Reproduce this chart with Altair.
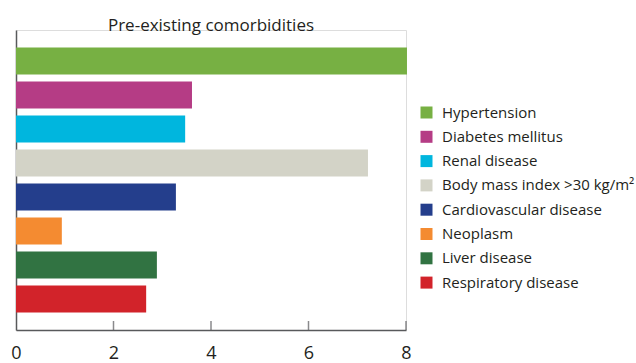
import altair as alt
import pandas as pd

categories = ["Hypertension", "Diabetes mellitus", "Renal disease",
              "Body mass index >30 kg/m²", "Cardiovascular disease",
              "Neoplasm", "Liver disease", "Respiratory disease"]
values = [8.02, 3.61, 3.47, 7.22, 3.28, 0.94, 2.89, 2.67]
colors = ["#77b043", "#b53c85", "#00b6de", "#d3d3c7", "#243e8c",
          "#f48b31", "#317342", "#d2232a"]
tick_values = [0, 2, 4, 6, 8]
inner_ticks = [2, 4, 6, 8]

FONT = "Open Sans"
TXT = "#231f20"
AX = "#58595b"

df = pd.DataFrame({"cat": categories, "value": values})
ticks_df = pd.DataFrame({"t": inner_ticks})

W, H = 390, 300

bars = alt.Chart(df).mark_bar().encode(
    x=alt.X("value:Q",
            scale=alt.Scale(domain=[0, 8], nice=False, zero=True),
            axis=alt.Axis(values=tick_values, ticks=False, grid=False, title=None,
                          labelFontSize=18, labelColor=TXT, labelFont=FONT,
                          labelPadding=14, domainColor=AX, domainWidth=1.5,
                          labelFlush=False)),
    y=alt.Y("cat:N", sort=categories,
            scale=alt.Scale(paddingInner=0.206, paddingOuter=0.515),
            axis=alt.Axis(labels=False, ticks=False, title=None, grid=False,
                          domainColor=AX, domainWidth=1.5)),
    color=alt.Color("cat:N",
                    scale=alt.Scale(domain=categories, range=colors),
                    legend=alt.Legend(title=None, orient="none", legendX=403, legendY=75,
                                      symbolType="square", symbolSize=144,
                                      symbolStrokeWidth=0, symbolOpacity=1,
                                      labelFont=FONT, labelFontSize=15, labelColor=TXT,
                                      labelOffset=8, rowPadding=8.3, padding=0,
                                      labelLimit=300)),
)

ticks = alt.Chart(ticks_df).mark_tick(orient="vertical", size=9, thickness=1.5,
                                      color=AX).encode(
    x=alt.X("t:Q", scale=alt.Scale(domain=[0, 8], nice=False)),
    y=alt.value(H - 4.5),
)

chart = alt.layer(bars, ticks).properties(
    width=W, height=H,
    title=alt.TitleParams("Pre-existing comorbidities", anchor="middle", frame="group",
                          font=FONT, fontSize=17, fontWeight="normal",
                          color=TXT, baseline="alphabetic", offset=2, dy=20),
    autosize=alt.AutoSizeParams(type="none"),
    padding={"left": 16, "top": 30, "right": 230, "bottom": 33},
).configure_view(stroke=None).configure(background="white")

chart.save("out.html", embed_options={"renderer": "svg", "actions": False})
